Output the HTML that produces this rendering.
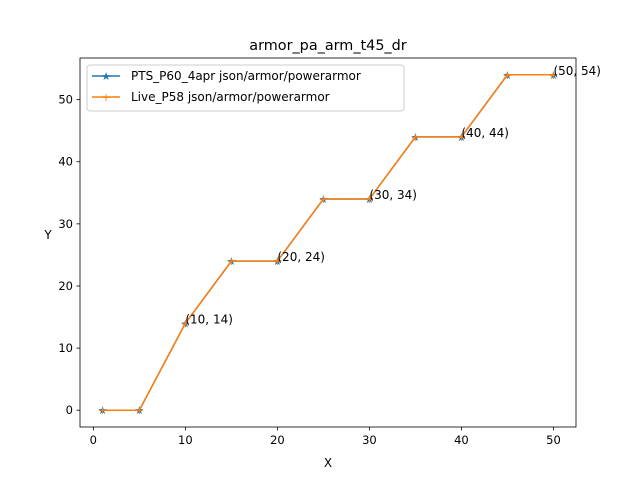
<!DOCTYPE html>
<html><head><meta charset="utf-8"><style>
body{margin:0;background:#fff}
svg{font-family:"DejaVu Sans","Liberation Sans",sans-serif}
</style></head><body>
<svg id="chart" width="640" height="480">
<rect width="640" height="480" fill="#fff"/>
<text x="328" y="50" font-size="14.4" text-anchor="middle">armor_pa_arm_t45_dr</text>
<g id="ticks"></g>
<g id="series"></g>
<rect x="80" y="58" width="496" height="369" fill="none" stroke="#000" stroke-width="0.8"/>
<text x="328" y="467" font-size="12" text-anchor="middle">X</text>
<text x="48" y="239" font-size="12" text-anchor="middle">Y</text>
<g>
<rect x="87" y="65" width="317" height="46" rx="3" fill="#fff" fill-opacity="0.8" stroke="#ccc"/>
<g>
<line x1="92" y1="76" x2="120" y2="76" stroke="#1f77b4" stroke-width="1.5"/>
<text x="106" y="80" font-size="11" fill="#1f77b4" text-anchor="middle">★</text>
<text x="131" y="80" font-size="12">PTS_P60_4apr json/armor/powerarmor</text>
</g>
<g>
<line x1="92" y1="97" x2="120" y2="97" stroke="#ff7f0e" stroke-width="1.5"/>
<text x="106" y="101" font-size="11" fill="#ff7f0e" text-anchor="middle">+</text>
<text x="131" y="101" font-size="12">Live_P58 json/armor/powerarmor</text>
</g>
</g>
</svg>
<script>
const xValues=[1,5,10,15,20,25,30,35,40,45,50];
const ptsValues=[0,0,14,24,24,34,34,44,44,54,54];
const liveValues=[0,0,14,24,24,34,34,44,44,54,54];
const xTicks=[0,10,20,30,40,50];
const yTicks=[0,10,20,30,40,50];
const annotated=[10,20,30,40,50];
const NS="http://www.w3.org/2000/svg";
const L=80,R=576,T=58,B=427,xmin=-1.45,xmax=52.45,ymin=-2.7,ymax=56.7;
const sx=v=>L+(v-xmin)/(xmax-xmin)*(R-L);
const sy=v=>B-(v-ymin)/(ymax-ymin)*(B-T);
function mk(tag,attrs,parent,txt){const e=document.createElementNS(NS,tag);for(const k in attrs)e.setAttribute(k,attrs[k]);if(txt!=null)e.textContent=txt;parent.appendChild(e);return e;}
const tg=document.getElementById('ticks');
xTicks.forEach(t=>{const x=sx(t);
const l=mk('line',{x1:x,x2:x,y1:B,y2:B+3.5,stroke:'#000','stroke-width':0.8},tg);


const s=mk('text',{x:x,y:B+17,'font-size':11.5,'text-anchor':'middle'},tg,t);

});
yTicks.forEach(t=>{const y=sy(t);
const l=mk('line',{x1:L-3.5,x2:L,y1:y,y2:y,stroke:'#000','stroke-width':0.8},tg);


const s=mk('text',{x:L-7,y:y+4,'font-size':11.5,'text-anchor':'end'},tg,t);

});
const sg=document.getElementById('series');
function series(vals,color,marker,name){
const pts=xValues.map((x,i)=>sx(x)+','+sy(vals[i])).join(' ');
const p=mk('polyline',{points:pts,fill:'none',stroke:color,'stroke-width':1.5},sg);


xValues.forEach((x,i)=>{const m=mk('text',{x:sx(x),y:sy(vals[i])+4,'font-size':11,fill:color,'text-anchor':'middle'},sg,marker);

});}
series(ptsValues,'#1f77b4','★','pts');
series(liveValues,'#ff7f0e','+','live');
xValues.forEach((x,i)=>{if(annotated.includes(x)){
const a=mk('text',{x:sx(x),y:sy(liveValues[i]),'font-size':12},sg,'('+x+', '+liveValues[i]+')');

}});
</script>
</body></html>
